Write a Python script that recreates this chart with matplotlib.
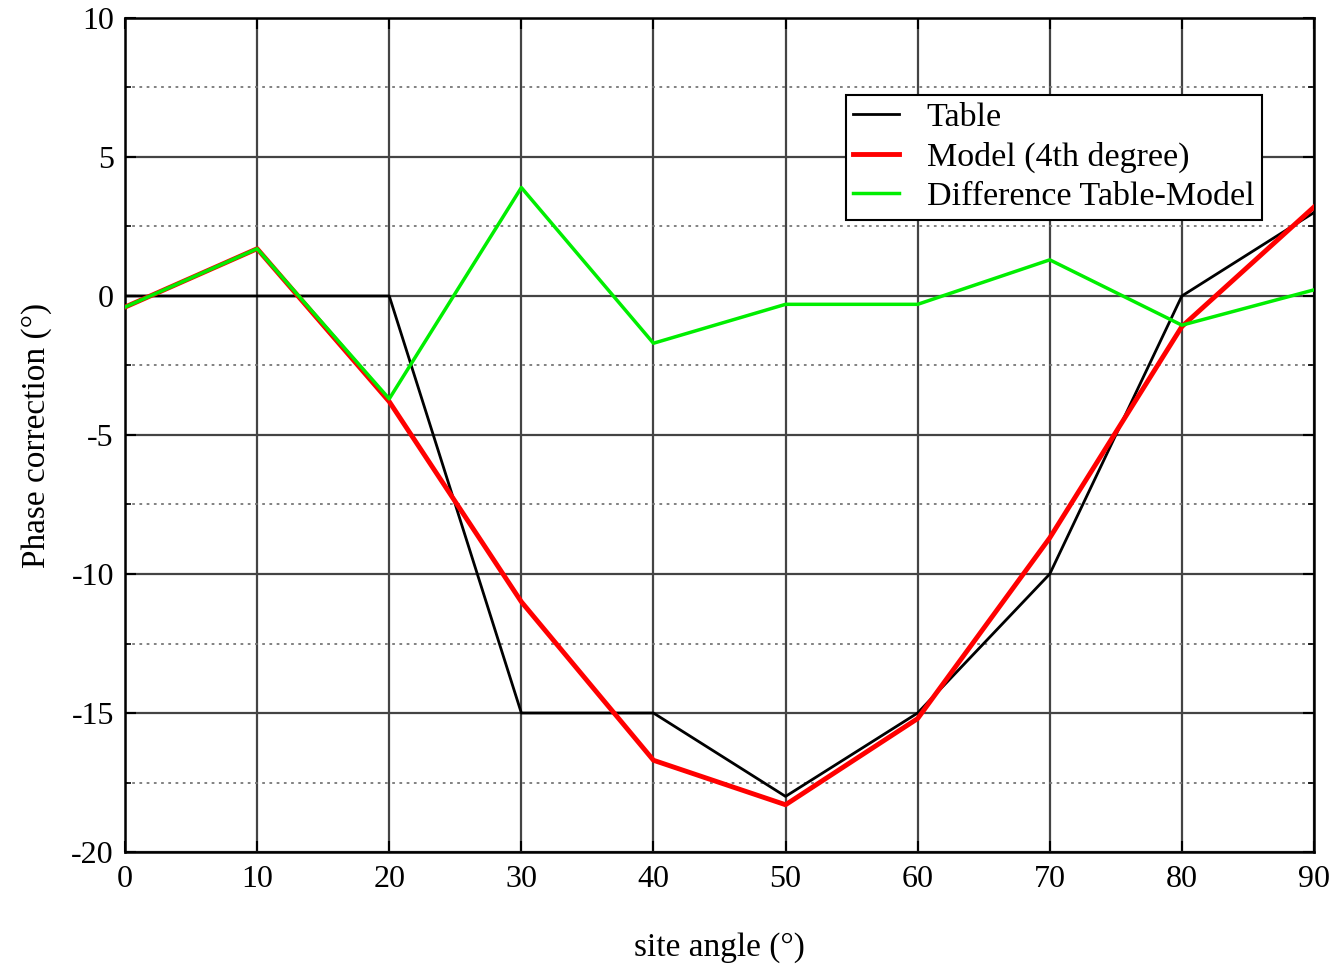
import matplotlib
matplotlib.use("Agg")
import matplotlib.pyplot as plt
from matplotlib.ticker import MultipleLocator, FuncFormatter

angles = [0, 10, 20, 30, 40, 50, 60, 70, 80, 90]
table = [0, 0, 0, -15, -15, -18, -15, -10, 0, 3]
model = [-0.4, 1.7, -3.8, -11.0, -16.7, -18.3, -15.2, -8.7, -1.1, 3.2]
difference = [-0.4, 1.7, -3.7, 3.9, -1.7, -0.3, -0.3, 1.3, -1.05, 0.22]

plt.rcParams['font.family'] = ['Liberation Serif', 'DejaVu Serif']
plt.rcParams['axes.unicode_minus'] = False

fig = plt.figure(figsize=(13.36, 9.66), dpi=100)
ax = fig.add_axes([0.0936, 0.118, 0.8899, 0.8634])

ax.plot(angles, table, color='black', lw=2.0, label='Table', zorder=3)
ax.plot(angles, model, color='#ff0000', lw=3.5, label='Model (4th degree)', zorder=4)
ax.plot(angles, difference, color='#00ee00', lw=2.5, label='Difference Table-Model', zorder=5)

ax.set_xlim(0, 90)
ax.set_ylim(-20, 10)
ax.xaxis.set_major_locator(MultipleLocator(10))
ax.yaxis.set_major_locator(MultipleLocator(5))
ax.yaxis.set_minor_locator(MultipleLocator(2.5))
fmt = FuncFormatter(lambda v, p: '%d' % round(v))
ax.xaxis.set_major_formatter(fmt)
ax.yaxis.set_major_formatter(fmt)
ax.grid(which='major', color='#444444', lw=1.6, ls='-', zorder=1)
ax.grid(which='minor', axis='y', color='#777777', lw=1.3, ls=(0, (1.5, 2.5)), zorder=1)
ax.tick_params(which='both', direction='in', top=True, right=True, labelsize=23)
ax.tick_params(which='major', length=8, width=1.5)
ax.tick_params(axis='x', which='major', pad=9)
ax.tick_params(axis='y', which='major', pad=8)
ax.tick_params(which='minor', length=4, width=1.2)
for s in ax.spines.values():
    s.set_linewidth(1.8)
    s.set_color('black')

ax.set_xlabel('site angle (°)', fontsize=24, labelpad=28)
ax.set_ylabel('Phase correction (°)', fontsize=24, labelpad=14)

leg = ax.legend(loc='upper left', bbox_to_anchor=(0.6064, 0.9077), borderaxespad=0,
                fontsize=24.5, frameon=True, fancybox=False, framealpha=1, edgecolor='black',
                handlelength=1.35, handletextpad=0.8, borderpad=0.22, labelspacing=0.25)
leg.get_frame().set_linewidth(1.5)
leg.set_zorder(10)

fig.savefig('out.png', dpi=100)
